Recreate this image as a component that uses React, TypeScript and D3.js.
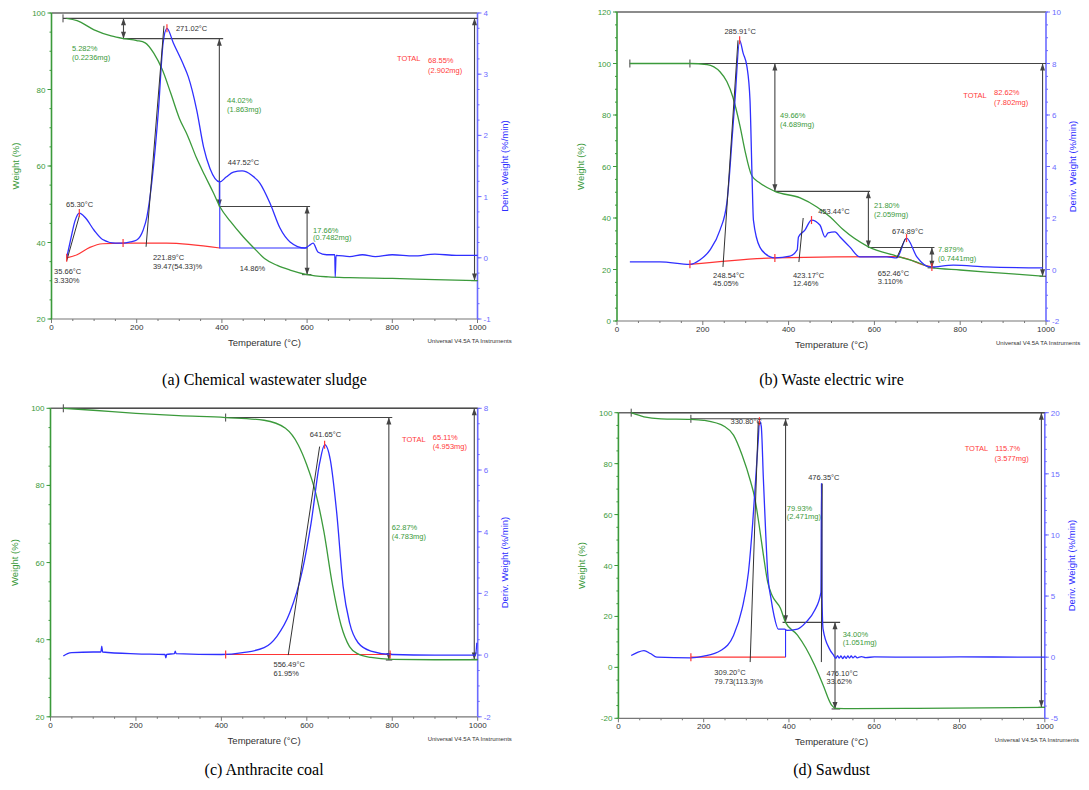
import React from 'react';
import * as d3 from 'd3';

type Pt = [number, number];
type Label = { t: number; w: number; s: string; c: string; mid?: boolean };

const TEMP_TICKS = [0, 200, 400, 600, 800, 1000];

// (a) chemical wastewater sludge
const WEIGHT_A: Pt[] = [[35, 98.6], [60, 98.0], [100, 95.6], [140, 94.0], [170, 93.3], [200, 92.8], [220, 92.2], [240, 89.5], [260, 85.2], [280, 79.0], [300, 72.5], [320, 67.8], [340, 62.2], [360, 57.5], [380, 53.0], [395, 49.4], [420, 45.5], [450, 41.5], [480, 38.0], [500, 35.8], [530, 34.0], [560, 32.8], [600, 31.6], [650, 31.0], [700, 30.8], [800, 30.6], [900, 30.3], [1000, 30.05]];
const DERIV_A: Pt[] = [[35.66, 0.0], [45, 0.3], [55, 0.6], [65.3, 0.73], [80, 0.65], [100, 0.45], [120, 0.3], [150, 0.24], [168, 0.24], [185, 0.26], [200, 0.29], [215, 0.45], [224, 0.67], [236, 1.27], [251, 2.41], [262, 3.51], [271, 3.75], [286, 3.51], [310, 3.15], [321, 2.96], [341, 2.41], [357, 1.81], [372, 1.46], [395, 1.24], [410, 1.32], [427, 1.4], [447.5, 1.42], [470, 1.35], [489, 1.22], [513, 0.89], [536, 0.49], [560, 0.26], [595, 0.16], [605, 0.2], [614, 0.24], [626, 0.09], [646, 0.05], [665, 0.05], [666, -0.31], [668, 0.04], [700, 0.02], [730, 0.05], [760, 0.02], [800, 0.05], [850, 0.03], [900, 0.06], [950, 0.04], [1000, 0.04]];
const BASE_A: Pt[] = [[35.66, 0], [60, 0.05], [90, 0.17], [120, 0.23], [168, 0.24], [270, 0.24], [395, 0.16]];
const STEP_A: Pt[] = [[395, 1.24], [395, 0.16], [600, 0.16]];
const TANGENT_A: Pt[][] = [[[35.66, -0.05], [66, 0.7]], [[222, 0.18], [264, 3.79]]];
const MARKS_A: Pt[] = [[35.66, 0], [65.3, 0.73], [168, 0.24], [271, 3.75]];
const WEIGHT_TICKS_A = [20, 40, 60, 80, 100];
const DERIV_TICKS_A = [-1, 0, 1, 2, 3, 4];
const LABELS_A: Label[] = [
  { t: 292, w: 96.1, s: '271.02°C', c: 'k' },
  { t: 48, w: 90.8, s: '5.282%', c: 'g' },
  { t: 48, w: 88.5, s: '(0.2236mg)', c: 'g' },
  { t: 412, w: 77.3, s: '44.02%', c: 'g' },
  { t: 412, w: 74.9, s: '(1.863mg)', c: 'g' },
  { t: 414, w: 61.0, s: '447.52°C', c: 'k' },
  { t: 811, w: 88.2, s: 'TOTAL', c: 'r' },
  { t: 884, w: 87.7, s: '68.55%', c: 'r' },
  { t: 884, w: 85.1, s: '(2.902mg)', c: 'r' },
  { t: 34, w: 50.1, s: '65.30°C', c: 'k' },
  { t: 6, w: 32.5, s: '35.66°C', c: 'k' },
  { t: 6, w: 30.2, s: '3.330%', c: 'k' },
  { t: 238, w: 36.2, s: '221.89°C', c: 'k' },
  { t: 238, w: 33.9, s: '39.47(54.33)%', c: 'k' },
  { t: 442, w: 33.3, s: '14.86%', c: 'k' },
  { t: 614, w: 43.3, s: '17.66%', c: 'g' },
  { t: 614, w: 41.4, s: '(0.7482mg)', c: 'g' },
];

// (b) waste electric wire
const WEIGHT_B: Pt[] = [[30, 100], [170, 100], [210, 99.6], [240, 96.8], [256, 93], [270, 87], [287, 75.5], [298, 66.4], [314, 56.5], [333, 53.6], [368, 50.34], [427, 47.8], [466, 44.3], [497, 40.4], [527, 35.5], [585, 28.9], [652, 25.2], [700, 22.8], [734, 20.7], [800, 19.8], [862, 19.0], [930, 18.2], [993, 17.4]];
const DERIV_B: Pt[] = [[30, 0.3], [100, 0.3], [170, 0.2], [193, 0.37], [217, 0.76], [240, 1.53], [256, 2.58], [263, 3.86], [268, 5.03], [275, 6.58], [285.9, 8.9], [294, 8.4], [303, 7.87], [310, 6.58], [315, 3.48], [318, 1.92], [333, 0.87], [357, 0.49], [368, 0.45], [403, 0.52], [420, 0.76], [423, 1.26], [438, 1.53], [453.4, 1.92], [473, 1.73], [485, 1.26], [492, 1.42], [508, 1.46], [520, 1.26], [543, 0.87], [566, 0.49], [629, 0.49], [652, 0.45], [674.9, 1.22], [699, 0.49], [730, 0.1], [784, 0.17], [862, 0.1], [993, 0.06]];
const BASE_B: Pt[] = [[170, 0.2], [368, 0.45], [650, 0.5], [680, 0.4], [710, 0.2], [734, 0.1]];
const TANGENT_B: Pt[][] = [[[247, 0.1], [282, 8.9]], [[424, 0.29], [434, 2.0]], [[652, 0.45], [672, 1.2]]];
const MARKS_B: Pt[] = [[170, 0.2], [285.9, 8.9], [368, 0.45], [453.4, 1.92], [674.9, 1.22], [734, 0.1]];
const WEIGHT_TICKS_B = [0, 20, 40, 60, 80, 100, 120];
const DERIV_TICKS_B = [-2, 0, 2, 4, 6, 8, 10];
const LABELS_B: Label[] = [
  { t: 287, w: 112.6, s: '285.91°C', c: 'k', mid: true },
  { t: 380, w: 80, s: '49.66%', c: 'g' },
  { t: 380, w: 76.5, s: '(4.689mg)', c: 'g' },
  { t: 807, w: 87.8, s: 'TOTAL', c: 'r' },
  { t: 879, w: 88.9, s: '82.62%', c: 'r' },
  { t: 879, w: 85, s: '(7.802mg)', c: 'r' },
  { t: 469, w: 42.7, s: '453.44°C', c: 'k' },
  { t: 599, w: 45, s: '21.80%', c: 'g' },
  { t: 599, w: 41.6, s: '(2.059mg)', c: 'g' },
  { t: 641, w: 35, s: '674.89°C', c: 'k' },
  { t: 748, w: 28, s: '7.879%', c: 'g' },
  { t: 748, w: 24.5, s: '(0.7441mg)', c: 'g' },
  { t: 608, w: 18.6, s: '652.46°C', c: 'k' },
  { t: 608, w: 15.5, s: '3.110%', c: 'k' },
  { t: 224, w: 17.9, s: '248.54°C', c: 'k' },
  { t: 224, w: 14.8, s: '45.05%', c: 'k' },
  { t: 410, w: 17.9, s: '423.17°C', c: 'k' },
  { t: 410, w: 14.8, s: '12.46%', c: 'k' },
];

// (c) anthracite coal
const WEIGHT_C: Pt[] = [[30, 100], [100, 99.5], [200, 98.7], [300, 98.1], [410, 97.6], [500, 96.9], [550, 94.8], [580, 90.5], [600, 85.3], [620, 78.4], [640, 68.0], [660, 54.2], [680, 43.8], [700, 38.2], [720, 36.3], [750, 35.4], [800, 34.9], [900, 34.8], [1000, 34.8]];
const DERIV_C: Pt[] = [[30, -0.03], [40, 0.05], [50, 0.08], [100, 0.1], [118, 0.1], [120, 0.29], [122, 0.1], [200, 0.04], [268, 0.02], [270, -0.09], [272, 0.02], [290, 0.05], [292, 0.13], [294, 0.05], [400, 0.02], [450, 0.08], [500, 0.24], [530, 0.61], [560, 1.37], [590, 2.77], [610, 4.28], [630, 6.22], [642, 6.82], [655, 6.33], [670, 4.61], [685, 2.23], [700, 1.05], [720, 0.4], [750, 0.13], [800, 0.02], [900, 0.0], [995, 0.0], [998, 0.4]];
const BASE_C: Pt[] = [[410, 0.02], [795, 0.02]];
const TANGENT_C: Pt[][] = [[[556.5, 0], [630, 6.76]]];
const MARKS_C: Pt[] = [[410, 0.02], [641.65, 6.82], [795, 0.02]];
const WEIGHT_TICKS_C = [20, 40, 60, 80, 100];
const DERIV_TICKS_C = [-2, 0, 2, 4, 6, 8];
const LABELS_C: Label[] = [
  { t: 607, w: 93.3, s: '641.65°C', c: 'k' },
  { t: 823, w: 92.0, s: 'TOTAL', c: 'r' },
  { t: 895, w: 92.5, s: '65.11%', c: 'r' },
  { t: 895, w: 90.1, s: '(4.953mg)', c: 'r' },
  { t: 799, w: 69.1, s: '62.87%', c: 'g' },
  { t: 799, w: 66.9, s: '(4.783mg)', c: 'g' },
  { t: 522, w: 33.6, s: '556.49°C', c: 'k' },
  { t: 522, w: 31.4, s: '61.95%', c: 'k' },
];

// (d) sawdust
const WEIGHT_D: Pt[] = [[30, 100], [60, 98.4], [100, 97.6], [170, 97.4], [200, 97.0], [250, 94.5], [270, 91.2], [290, 83.4], [310, 73], [320, 66.4], [330, 55.9], [340, 44.2], [350, 33.6], [360, 28.4], [380, 23.2], [392, 17.67], [420, 12.7], [440, 7.5], [460, 0.9], [480, -6.9], [500, -14.8], [510, -16.1], [550, -16.2], [700, -16.1], [1000, -15.7]];
const DERIV_D: Pt[] = [[30, 0.14], [45, 0.4], [60, 0.54], [75, 0.3], [90, 0.0], [170, -0.05], [200, 0.08], [240, 0.54], [270, 1.77], [290, 3.95], [305, 6.95], [315, 11], [322, 14.6], [328, 17.8], [330.8, 19.3], [335, 18.9], [340, 14.6], [345, 10.5], [350, 6.95], [358, 4.77], [365, 3.4], [375, 2.3], [390, 2.3], [395, 2.2], [420, 2.3], [440, 2.86], [460, 3.81], [475, 5.3], [476.3, 14.2], [477.5, 5.0], [480, 2.3], [495, 0.68], [505, 0.14], [510, -0.1], [514, 0.12], [518, -0.08], [522, 0.1], [526, -0.12], [530, 0.08], [534, -0.1], [538, 0.1], [542, -0.08], [546, 0.1], [550, -0.06], [555, 0.08], [560, -0.05], [570, 0.05], [580, -0.03], [600, 0.02], [700, 0.0], [800, 0.02], [1000, 0.0]];
const BASE_D: Pt[] = [[170, 0], [392, 0]];
const STEP_D: Pt[] = [[392, 2.25], [392, 0]];
const TANGENT_D: Pt[][] = [[[309, -0.4], [328, 19.3]], [[476, -0.4], [478, 14.2]]];
const MARKS_D: Pt[] = [[170, 0], [330.8, 19.3]];
const WEIGHT_TICKS_D = [-20, 0, 20, 40, 60, 80, 100];
const DERIV_TICKS_D = [-5, 0, 5, 10, 15, 20];
const LABELS_D: Label[] = [
  { t: 263, w: 96.7, s: '330.80°C', c: 'k' },
  { t: 445, w: 74.9, s: '476.35°C', c: 'k' },
  { t: 812, w: 86, s: 'TOTAL', c: 'r' },
  { t: 884, w: 86, s: '115.7%', c: 'r' },
  { t: 882, w: 82.3, s: '(3.577mg)', c: 'r' },
  { t: 395, w: 62.7, s: '79.93%', c: 'g' },
  { t: 395, w: 59.6, s: '(2.471mg)', c: 'g' },
  { t: 526, w: 13, s: '34.00%', c: 'g' },
  { t: 526, w: 9.8, s: '(1.051mg)', c: 'g' },
  { t: 225, w: -1.7, s: '309.20°C', c: 'k' },
  { t: 225, w: -5.2, s: '79.73(113.3)%', c: 'k' },
  { t: 488, w: -2.1, s: '476.10°C', c: 'k' },
  { t: 488, w: -5.2, s: '33.62%', c: 'k' },
];

const FONT = 'Liberation Sans, Arial, sans-serif';
const GREEN = '#3b9a3b';
const BLUE = '#2f2fff';
const AXBLUE = '#6b6bff';
const RED = '#ff3535';
const DARK = '#444';
const COLORS: Record<string, string> = { k: '#333', g: '#3b9a3b', r: '#ff3a3a' };

type Box = { x0: number; x1: number; yT: number; yB: number };
type Cfg = {
  box: Box;
  wTicks: number[]; wMinor: number;
  dTicks: number[]; dMinor: number;
  weight: Pt[]; deriv: Pt[]; base: Pt[]; step?: Pt[];
  tangents: Pt[][]; marks: Pt[];
  hLines: [number, number, number][]; vArrows: [number, number, number][]; starts: Pt[];
  labels: Label[]; caption: string; captionY: number;
};

function Panel({ cfg }: { cfg: Cfg }) {
  const { x0, x1, yT, yB } = cfg.box;
  const wDom = d3.extent(cfg.wTicks) as [number, number];
  const dDom = d3.extent(cfg.dTicks) as [number, number];
  const x = d3.scaleLinear().domain([0, 1000]).range([x0, x1]);
  const yw = d3.scaleLinear().domain(wDom).range([yB, yT]);
  const yd = d3.scaleLinear().domain(dDom).range([yB, yT]);
  const lw = d3.line<Pt>().x(d => x(d[0])).y(d => yw(d[1])).curve(d3.curveMonotoneX);
  const ld = d3.line<Pt>().x(d => x(d[0])).y(d => yd(d[1])).curve(d3.curveMonotoneX);
  const straight = d3.line<Pt>().x(d => x(d[0])).y(d => yd(d[1]));
  const wMinor = d3.range(wDom[0], wDom[1] + 1e-6, cfg.wMinor);
  const dMinor = d3.range(dDom[0], dDom[1] + 1e-6, cfg.dMinor);
  const tMinor = d3.range(0, 1001, 50);
  const cx = (x0 + x1) / 2;
  const cy = (yT + yB) / 2;

  return (
    <g fontFamily={FONT}>
      {/* frame top and bottom */}
      <line x1={x0} x2={x1} y1={yT} y2={yT} stroke="#666" strokeWidth={1.6} />
      <line x1={x0} x2={x1} y1={yB} y2={yB} stroke="#777" strokeWidth={1.2} />
      {tMinor.map(t => (
        <line key={'tm' + t} x1={x(t)} x2={x(t)} y1={yB} y2={yB + (t % 200 === 0 ? 4 : 2)} stroke="#777" />
      ))}
      {TEMP_TICKS.map(t => (
        <text key={'tl' + t} x={x(t)} y={yB + 11} fontSize={8} fill="#333" textAnchor="middle">{t}</text>
      ))}
      {/* left axis */}
      <line x1={x0} x2={x0} y1={yT} y2={yB} stroke={GREEN} strokeWidth={1.6} />
      {wMinor.map(v => (
        <line key={'wm' + v} x1={x0 - 2} x2={x0} y1={yw(v)} y2={yw(v)} stroke={GREEN} />
      ))}
      {cfg.wTicks.map(v => (
        <g key={'wt' + v}>
          <line x1={x0 - 4} x2={x0} y1={yw(v)} y2={yw(v)} stroke={GREEN} />
          <text x={x0 - 6} y={yw(v) + 3} fontSize={8} fill={GREEN} textAnchor="end">{v}</text>
        </g>
      ))}
      {/* right axis */}
      <line x1={x1} x2={x1} y1={yT} y2={yB} stroke={AXBLUE} strokeWidth={1.6} />
      {dMinor.map(v => (
        <line key={'dm' + v} x1={x1} x2={x1 + 2} y1={yd(v)} y2={yd(v)} stroke={AXBLUE} />
      ))}
      {cfg.dTicks.map(v => (
        <g key={'dt' + v}>
          <line x1={x1} x2={x1 + 4} y1={yd(v)} y2={yd(v)} stroke={AXBLUE} />
          <text x={x1 + 6} y={yd(v) + 3} fontSize={8} fill={AXBLUE}>{v}</text>
        </g>
      ))}
      {/* axis titles */}
      <text transform={`translate(${x0 - 33},${cy}) rotate(-90)`} fontSize={9.5} fill={GREEN} textAnchor="middle">Weight (%)</text>
      <text transform={`translate(${x1 + 30},${cy}) rotate(-90)`} fontSize={9.5} fill={BLUE} textAnchor="middle">Deriv. Weight (%/min)</text>
      <text x={cx} y={yB + 27} fontSize={9.5} fill="#333" textAnchor="middle">Temperature (°C)</text>
      <text x={x1 - 50} y={yB + 24} fontSize={6} fill="#333">Universal V4.5A TA Instruments</text>

      {/* step analysis */}
      {cfg.hLines.map(([a, b, w], i) => (
        <line key={'h' + i} x1={x(a)} x2={x(b)} y1={yw(w)} y2={yw(w)} stroke={DARK} strokeWidth={1.1} />
      ))}
      {cfg.starts.map(([t, w], i) => (
        <line key={'s' + i} x1={x(t)} x2={x(t)} y1={yw(w) - 4} y2={yw(w) + 4} stroke={DARK} />
      ))}
      {cfg.vArrows.map(([t, a, b], i) => {
        const px = x(t), ya = yw(a), yb = yw(b);
        return (
          <g key={'v' + i}>
            <line x1={px} x2={px} y1={ya} y2={yb} stroke={DARK} strokeWidth={1.1} />
            <path d={`M${px - 2.5},${ya + 7}L${px},${ya}L${px + 2.5},${ya + 7}Z`} fill={DARK} />
            <path d={`M${px - 2.5},${yb - 7}L${px},${yb}L${px + 2.5},${yb - 7}Z`} fill={DARK} />
          </g>
        );
      })}

      {/* curves */}
      <path d={ld(cfg.base) || ''} fill="none" stroke={RED} strokeWidth={1.2} />
      {cfg.step && <path d={straight(cfg.step) || ''} fill="none" stroke={BLUE} strokeWidth={1.1} />}
      <path d={lw(cfg.weight) || ''} fill="none" stroke={GREEN} strokeWidth={1.3} />
      <path d={ld(cfg.deriv) || ''} fill="none" stroke={BLUE} strokeWidth={1.3} />
      {cfg.tangents.map((seg, i) => (
        <path key={'tg' + i} d={straight(seg) || ''} fill="none" stroke="#333" strokeWidth={1} />
      ))}
      {cfg.marks.map(([t, v], i) => (
        <line key={'m' + i} x1={x(t)} x2={x(t)} y1={yd(v) - 4} y2={yd(v) + 4} stroke={RED} strokeWidth={1.2} />
      ))}

      {cfg.labels.map((l, i) => (
        <text key={'l' + i} x={x(l.t)} y={yw(l.w) + 3} fontSize={7.5} fill={COLORS[l.c]} textAnchor={l.mid ? 'middle' : 'start'}>{l.s}</text>
      ))}

      <text x={cx} y={cfg.captionY} fontSize={16} fontFamily="Liberation Serif, Times New Roman, serif" fill="#000" textAnchor="middle">{cfg.caption}</text>
    </g>
  );
}

const PANELS: Cfg[] = [
  {
    box: { x0: 51.5, x1: 477.5, yT: 13, yB: 319 },
    wTicks: WEIGHT_TICKS_A, wMinor: 5, dTicks: DERIV_TICKS_A, dMinor: 0.25,
    weight: WEIGHT_A, deriv: DERIV_A, base: BASE_A, step: STEP_A, tangents: TANGENT_A, marks: MARKS_A,
    hLines: [[27, 1000, 98.6], [168, 403, 93.3], [393, 607, 49.4], [588, 610, 31.6], [985, 1000, 30.05]],
    vArrows: [[169, 98.6, 93.3], [394, 93.3, 49.4], [600, 49.4, 31.6], [993, 98.6, 30.05]],
    starts: [[27, 98.6]],
    labels: LABELS_A, caption: '(a) Chemical wastewater sludge', captionY: 385,
  },
  {
    box: { x0: 617, x1: 1046, yT: 12, yB: 321 },
    wTicks: WEIGHT_TICKS_B, wMinor: 5, dTicks: DERIV_TICKS_B, dMinor: 0.5,
    weight: WEIGHT_B, deriv: DERIV_B, base: BASE_B, tangents: TANGENT_B, marks: MARKS_B,
    hLines: [[30, 1000, 100], [368, 590, 50.34], [585, 740, 28.54], [724, 742, 20.66], [985, 1000, 17.38]],
    vArrows: [[368, 100, 50.34], [586, 50.34, 28.54], [734, 28.54, 20.66], [992, 100, 17.38]],
    starts: [[30, 100], [170, 100]],
    labels: LABELS_B, caption: '(b) Waste electric wire', captionY: 385,
  },
  {
    box: { x0: 50.5, x1: 477.7, yT: 408.3, yB: 716.8 },
    wTicks: WEIGHT_TICKS_C, wMinor: 5, dTicks: DERIV_TICKS_C, dMinor: 0.5,
    weight: WEIGHT_C, deriv: DERIV_C, base: BASE_C, tangents: TANGENT_C, marks: MARKS_C,
    hLines: [[30, 1000, 100], [410, 800, 97.6], [785, 800, 34.73], [985, 1000, 34.89]],
    vArrows: [[792, 97.6, 34.73], [992, 100, 34.89]],
    starts: [[30, 100], [410, 97.6]],
    labels: LABELS_C, caption: '(c) Anthracite coal', captionY: 775,
  },
  {
    box: { x0: 618.4, x1: 1044.8, yT: 412.7, yB: 718.3 },
    wTicks: WEIGHT_TICKS_D, wMinor: 5, dTicks: DERIV_TICKS_D, dMinor: 1,
    weight: WEIGHT_D, deriv: DERIV_D, base: BASE_D, step: STEP_D, tangents: TANGENT_D, marks: MARKS_D,
    hLines: [[30, 1000, 100], [170, 400, 97.6], [385, 520, 17.67], [500, 520, -16.33], [985, 1000, -15.7]],
    vArrows: [[392, 97.6, 17.67], [508, 17.67, -16.33], [992, 100, -15.7]],
    starts: [[30, 100], [170, 97.6]],
    labels: LABELS_D, caption: '(d) Sawdust', captionY: 775,
  },
];

export default function App() {
  return (
    <svg width={1089} height={790} style={{ position: 'absolute', left: 0, top: 0, background: '#fff' }}>
      {PANELS.map((p, i) => <Panel key={i} cfg={p} />)}
    </svg>
  );
}
